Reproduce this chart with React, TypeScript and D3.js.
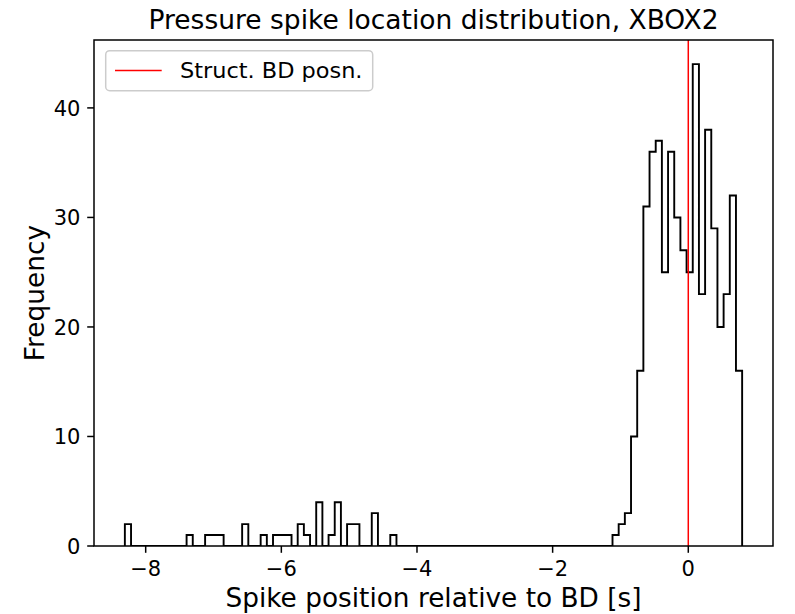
import React from "react";
import * as d3 from "d3";

// Histogram definition: 100 equal-width bins between binStart and binEnd
const binStart = -8.307;
const binEnd = 0.794;
const counts = [
  2, 0, 0, 0, 0, 0, 0, 0, 0, 0,
  1, 0, 0, 1, 1, 1, 0, 0, 0, 2,
  0, 0, 1, 0, 1, 1, 1, 0, 2, 1,
  0, 4, 0, 1, 4, 0, 2, 2, 0, 0,
  3, 0, 0, 1, 0, 0, 0, 0, 0, 0,
  0, 0, 0, 0, 0, 0, 0, 0, 0, 0,
  0, 0, 0, 0, 0, 0, 0, 0, 0, 0,
  0, 0, 0, 0, 0, 0, 0, 0, 0, 1,
  2, 3, 10, 16, 31, 36, 37, 25, 36, 30,
  27, 25, 44, 23, 38, 29, 20, 23, 32, 16,
];
const xTicks = [-8, -6, -4, -2, 0];
const yTicks = [0, 10, 20, 30, 40];
const bdPosition = 0;

const W = 795;
const H = 614;
const left = 94;
const right = 773;
const top = 40;
const bottom = 546;
const FONT = "DejaVu Sans, sans-serif";

export default function App() {
  const nBins = counts.length;
  const width = (binEnd - binStart) / nBins;
  const edges = d3.range(nBins + 1).map((i) => binStart + i * width);
  const span = binEnd - binStart;
  const x = d3
    .scaleLinear()
    .domain([binStart - 0.05 * span, binEnd + 0.05 * span])
    .range([left, right]);
  const yMax = (d3.max(counts) as number) * 1.05;
  const y = d3.scaleLinear().domain([0, yMax]).range([bottom, top]);

  const pts: [number, number][] = [[edges[0], 0]];
  counts.forEach((c, i) => {
    pts.push([edges[i], c]);
    pts.push([edges[i + 1], c]);
  });
  pts.push([edges[nBins], 0]);
  const line = d3
    .line<[number, number]>()
    .x((d) => x(d[0]))
    .y((d) => y(d[1]));

  const fmt = (v: number) => (v < 0 ? "\u2212" + Math.abs(v) : String(v));

  return (
    <svg
      width={W}
      height={H}
      style={{ position: "absolute", left: 0, top: 0, background: "#fff" }}
      fontFamily={FONT}
    >
      <rect x={0} y={0} width={W} height={H} fill="#fff" />
      <defs>
        <clipPath id="plotArea">
          <rect x={left} y={top} width={right - left} height={bottom - top} />
        </clipPath>
      </defs>

      <g clipPath="url(#plotArea)">
        <path d={line(pts) || ""} fill="none" stroke="#000" strokeWidth={1.9} strokeLinejoin="miter" />
        <line
          x1={x(bdPosition)}
          x2={x(bdPosition)}
          y1={top}
          y2={bottom}
          stroke="#ff0000"
          strokeWidth={1.5}
        />
      </g>

      {/* spines */}
      <rect x={left} y={top} width={right - left} height={bottom - top} fill="none" stroke="#000" strokeWidth={1.5} />

      {/* x axis */}
      {xTicks.map((t) => (
        <g key={"x" + t}>
          <line x1={x(t)} x2={x(t)} y1={bottom} y2={bottom + 6.8} stroke="#000" strokeWidth={1.5} />
          <text x={x(t)} y={bottom + 29.5} textAnchor="middle" fontSize={21} fill="#000">
            {fmt(t)}
          </text>
        </g>
      ))}
      {/* y axis */}
      {yTicks.map((t) => (
        <g key={"y" + t}>
          <line x1={left - 6.8} x2={left} y1={y(t)} y2={y(t)} stroke="#000" strokeWidth={1.5} />
          <text x={left - 13.6} y={y(t) + 7.6} textAnchor="end" fontSize={21} fill="#000">
            {fmt(t)}
          </text>
        </g>
      ))}

      <text
        x={(left + right) / 2}
        y={606.5}
        textAnchor="middle"
        fontSize={26.4}
        fill="#000"
        textLength={416}
        lengthAdjust="spacingAndGlyphs"
      >
        Spike position relative to BD [s]
      </text>
      <text
        transform={`translate(44, ${(top + bottom) / 2}) rotate(-90)`}
        textAnchor="middle"
        fontSize={26.4}
        fill="#000"
      >
        Frequency
      </text>
      <text
        x={(left + right) / 2}
        y={28.5}
        textAnchor="middle"
        fontSize={26.4}
        fill="#000"
        textLength={570}
        lengthAdjust="spacingAndGlyphs"
      >
        Pressure spike location distribution, XBOX2
      </text>

      {/* legend */}
      <rect x={105.7} y={50.7} width={267} height={40} rx={4} fill="#fff" fillOpacity={0.8} stroke="#cccccc" strokeWidth={1.5} />
      <line x1={115} x2={161.7} y1={70.5} y2={70.5} stroke="#ff0000" strokeWidth={1.5} />
      <text x={180} y={78.3} fontSize={21} fill="#000" textLength={182.5} lengthAdjust="spacingAndGlyphs">
        Struct. BD posn.
      </text>
    </svg>
  );
}
